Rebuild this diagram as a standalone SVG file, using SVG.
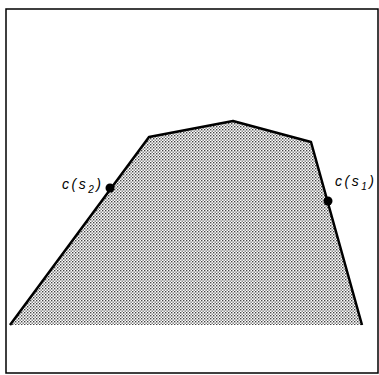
<svg xmlns="http://www.w3.org/2000/svg" width="379" height="375" viewBox="0 0 379 375">
<defs>
<pattern id="dots" width="3" height="3" patternUnits="userSpaceOnUse">
<rect width="3" height="3" fill="#ffffff"/>
<rect x="0" y="0" width="1.4" height="1.4" fill="#444"/>
<rect x="1.5" y="1.5" width="1.4" height="1.4" fill="#777"/>
</pattern>
</defs>
<style>
.lbl{font-family:"Liberation Sans",Arial,sans-serif;font-size:14px;font-style:italic;fill:#000;letter-spacing:2.5px}
.sub{font-size:10px}
</style>
<rect x="6" y="9" width="372" height="364" fill="#fff" stroke="#000" stroke-width="1.5"/>
<g id="region">
<polygon points="10,325 149,137 233,121 311,142 362,325" fill="url(#dots)"/>
<polyline points="10,325 149,137 233,121 311,142 362,325" fill="none" stroke="#000" stroke-width="2.5" stroke-linejoin="round"/>
</g>
<g id="p2">
<circle cx="110" cy="188" r="4.5" fill="#000"/>
<text class="lbl" x="62" y="189">c(s<tspan class="sub" dy="4">2</tspan><tspan dy="-4">)</tspan></text>
</g>
<g id="p1">
<circle cx="328" cy="201" r="4.5" fill="#000"/>
<text class="lbl" x="335" y="186">c(s<tspan class="sub" dy="4">1</tspan><tspan dy="-4">)</tspan></text>
</g>
</svg>
